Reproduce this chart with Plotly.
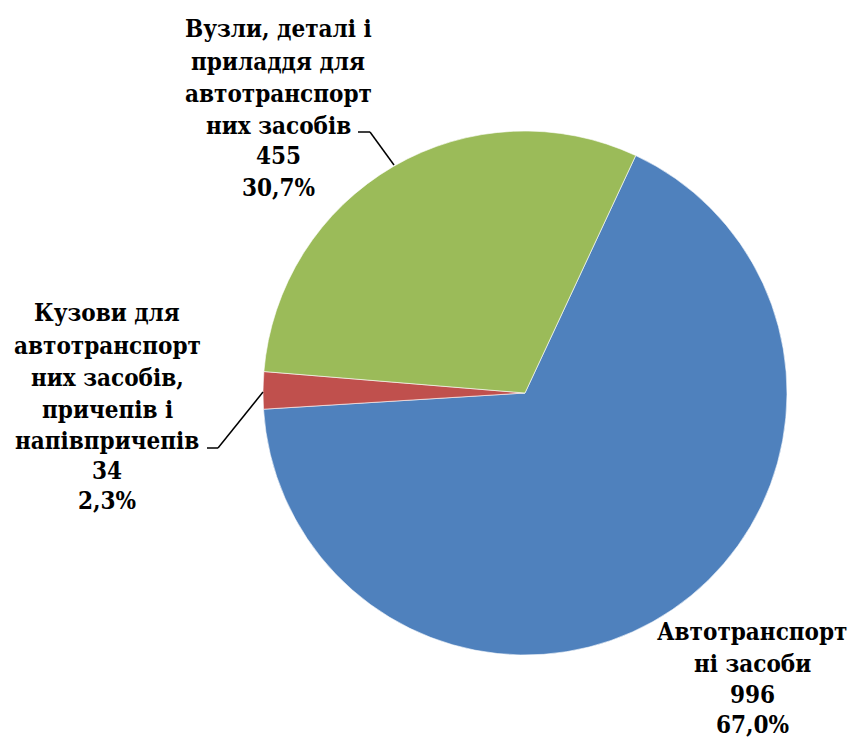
import plotly.graph_objects as go

# --- DATA ---
categories = [
    "Автотранспорт<br>ні засоби",
    "Кузови для<br>автотранспорт<br>них засобів,<br>причепів і<br>напівпричепів",
    "Вузли, деталі і<br>приладдя для<br>автотранспорт<br>них засобів",
]
values = [996, 34, 455]
pct_labels = ["67,0%", "2,3%", "30,7%"]
colors = ["#4F81BD", "#C0504D", "#9BBB59"]

W, H = 857, 738
OFF = 8  # page body margin
FS = 24

# label column centre x and baseline of each line (px)
label_x = [752, 107, 278]
label_baselines = [
    [639, 671, 702, 732],
    [320, 353, 385, 417, 448, 478, 508],
    [36, 69, 101, 133, 163, 195],
]
leaders = [
    None,
    [(207, 448), (218, 448), (263, 392)],
    [(358, 132), (370, 132), (394, 165)],
]


def px_x(x):
    return (x - OFF) / W


def px_y(y):
    return 1 - (y - OFF) / H


fig = go.Figure(go.Pie(
    labels=[c.replace("<br>", " ") for c in categories],
    values=values,
    sort=False,
    direction="clockwise",
    rotation=25,
    marker=dict(colors=colors, line=dict(color="white", width=0.6)),
    textinfo="none",
    hoverinfo="label+value+percent",
    showlegend=False,
    domain=dict(x=[px_x(263), px_x(787)], y=[px_y(655), px_y(131)]),
))

font = dict(family="DejaVu Serif Condensed, DejaVu Serif", size=FS, color="black")

# one annotation per text line so the line spacing matches the original
for cat, val, pct, lx, bases in zip(categories, values, pct_labels, label_x, label_baselines):
    lines = cat.split("<br>") + [str(val), pct]
    for line, b in zip(lines, bases):
        fig.add_annotation(
            x=px_x(lx), y=px_y(b - 0.33 * FS), xref="paper", yref="paper",
            text=f"<b>{line}</b>",
            showarrow=False, xanchor="center", yanchor="middle",
            font=font,
        )

for pts in leaders:
    if not pts:
        continue
    for (x0, y0), (x1, y1) in zip(pts[:-1], pts[1:]):
        fig.add_shape(type="line", xref="paper", yref="paper",
                      x0=px_x(x0), y0=px_y(y0), x1=px_x(x1), y1=px_y(y1),
                      line=dict(color="black", width=1.5))

fig.update_layout(
    width=W, height=H,
    margin=dict(l=0, r=0, t=0, b=0),
    paper_bgcolor="white",
    plot_bgcolor="white",
)

fig.write_html("out.html")
